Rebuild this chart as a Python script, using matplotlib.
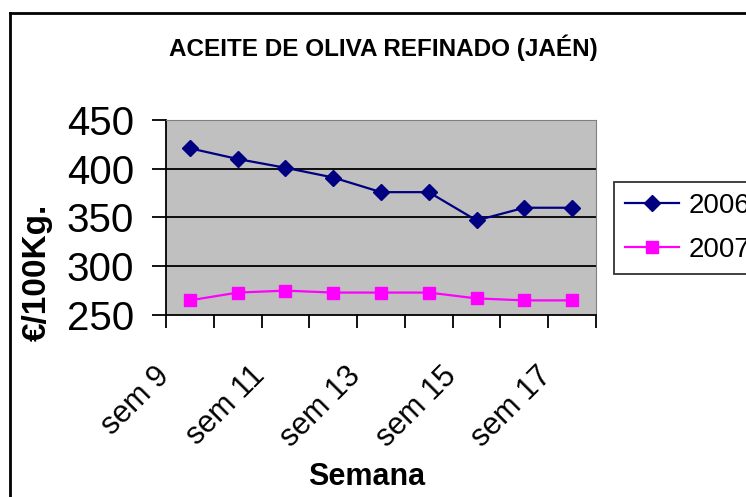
import matplotlib
matplotlib.use("Agg")
import matplotlib.pyplot as plt
from matplotlib.lines import Line2D
from matplotlib.transforms import ScaledTranslation

# data
semanas = ["sem 9", "sem 10", "sem 11", "sem 12", "sem 13",
           "sem 14", "sem 15", "sem 16", "sem 17"]
precio_2006 = [421, 410, 401, 391, 376, 376, 347, 360, 360]
precio_2007 = [265, 273, 275, 273, 273, 273, 267, 265, 265]
yticks = [250, 300, 350, 400, 450]

W, H = 746, 497
plt.rcParams['font.family'] = ['Liberation Sans', 'DejaVu Sans']
fig = plt.figure(figsize=(W / 100, H / 100), dpi=100)

# plot area in pixel coords of the reference
ax = fig.add_axes([166 / W, 1 - 315 / H, (596 - 166) / W, (315 - 120) / H])
ax.set_facecolor('#C0C0C0')

x = list(range(len(semanas)))
for v in yticks[1:-1]:
    ax.axhline(v, color='black', lw=1.3, zorder=1)
ax.plot(x, precio_2006, color='#000080', marker='D', ms=8.5, lw=1.6,
        label='2006', zorder=3)
ax.plot(x, precio_2007, color='#FF00FF', marker='s', ms=8, lw=1.6,
        label='2007', zorder=3)

ax.set_xlim(-0.5, len(semanas) - 0.5)
ax.set_ylim(250, 450)
ax.set_yticks(yticks)
ax.tick_params(axis='y', length=10, width=1.3, labelsize=29, pad=13)

# ticks between categories, labels every other week
ax.set_xticks([i - 0.5 for i in range(len(semanas) + 1)])
ax.set_xticklabels([])
ax.tick_params(axis='x', which='major', length=9, width=1.3)
ax.set_xticks(x[::2], minor=True)
ax.set_xticklabels(semanas[::2], minor=True, rotation=45, ha='right',
                   va='top', fontsize=22)
ax.tick_params(axis='x', which='minor', length=0, pad=33)
shift = ScaledTranslation(-14 / 100, 0, fig.dpi_scale_trans)
for lab in ax.get_xticklabels(minor=True):
    lab.set_transform(lab.get_transform() + shift)

for s in ['top', 'right']:
    ax.spines[s].set_color('#808080')
for s in ['left', 'bottom']:
    ax.spines[s].set_linewidth(1.3)

fig.text(383 / W, 1 - 56 / H, 'ACEITE DE OLIVA REFINADO (JAÉN)',
         fontsize=17.5, fontweight='bold', ha='center', va='baseline')
fig.text(37 / W, 1 - 272 / H, '€/100Kg.', rotation=90, fontsize=24,
         fontweight='bold', ha='center', va='center')
fig.text(367 / W, 1 - 485 / H, 'Semana', fontsize=22, fontweight='bold',
         ha='center', va='baseline')

leg = fig.legend(loc='upper left', bbox_to_anchor=(614 / W, 1 - 182 / H),
                 fontsize=20, fancybox=False, edgecolor='black',
                 borderpad=0.4, handlelength=1.95, handletextpad=0.32,
                 labelspacing=0.63, borderaxespad=0)
leg.get_frame().set_linewidth(1.3)

# chart border, cut off at right and bottom like the reference
fig.add_artist(Line2D([10 / W, 10 / W], [0, 1 - 13 / H], color='black',
                      lw=2, transform=fig.transFigure))
fig.add_artist(Line2D([10 / W, 1], [1 - 13 / H, 1 - 13 / H], color='black',
                      lw=2, transform=fig.transFigure))

fig.savefig('out.png', dpi=100)
